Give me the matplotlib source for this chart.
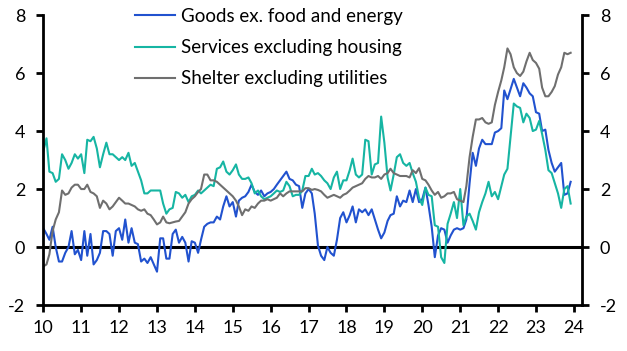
import numpy as np
import pandas as pd
import matplotlib
matplotlib.use("Agg")
import matplotlib.pyplot as plt
import matplotlib.dates as mdates

plt.rcParams["font.family"] = ["Lato", "DejaVu Sans"]
plt.rcParams["axes.unicode_minus"] = False

# monthly y/y %, Jan 2010 - Dec 2023
goods = [
    0.65, 0.45, 0.25, 0.7, 0.0, -0.5, -0.5, -0.2, 0.0, 0.55, -0.25, -0.1,
    -0.45, 0.55, -0.3, 0.45, -0.6, -0.45, -0.2, 0.55, 0.55, 0.45, -0.3, 0.55,
    0.65, 0.25, 0.95, 0.15, 0.65, 0.15, 0.1, -0.5, -0.4, -0.55, -0.35, -0.6,
    -0.85, 0.3, 0.3, -0.4, -0.4, 0.45, 0.6, 0.15, 0.35, 0.15, -0.5, 0.2,
    0.15, -0.2, 0.25, 0.7, 0.8, 0.85, 0.85, 1.05, 0.95, 1.4, 1.75, 1.4,
    1.55, 1.05, 1.6, 1.7, 1.75, 1.9, 2.15, 1.9, 1.8, 1.95, 1.75, 1.85,
    1.9, 2.0, 2.15, 2.3, 2.45, 2.6, 2.35, 2.3, 2.15, 2.1, 1.35, 1.85,
    2.0, 1.85, 1.15, 0.05, -0.3, -0.45, 0.0, -0.2, -0.3, 0.25, 1.0, 1.2,
    0.85, 1.1, 1.4, 0.85, 1.3, 1.2, 1.3, 1.1, 1.3, 0.95, 0.6, 0.3,
    0.5, 0.9, 1.1, 1.15, 1.75, 1.4, 1.6, 1.55, 1.95, 1.55, 2.0, 1.55,
    1.65, 2.05, 1.45, 0.7, -0.35, 0.4, 0.65, 0.6, 0.15, 0.4, 0.6, 0.65,
    0.6, 0.65, 0.95, 2.2, 3.25, 2.8, 3.4, 3.7, 3.55, 3.55, 3.55, 3.95,
    4.0, 4.1, 5.4, 5.1, 5.45, 5.8, 5.5, 5.2, 5.65, 5.5, 5.3, 5.2,
    4.65, 4.6, 4.0, 4.05, 3.35, 2.9, 2.6, 2.75, 2.9, 1.8, 1.85, 2.25,
]
services = [
    3.3, 3.75, 2.6, 2.55, 2.25, 2.35, 3.2, 3.0, 2.7, 2.9, 3.2, 3.05,
    3.2, 2.55, 3.7, 3.65, 3.8, 3.4, 2.75, 3.2, 3.6, 3.2, 3.2, 3.1,
    3.0, 3.1, 3.0, 3.25, 2.8, 2.9, 2.6, 2.3, 1.85, 1.85, 1.95, 1.95,
    1.95, 1.95, 1.5, 1.15, 1.3, 1.35, 1.9, 1.85, 1.7, 1.8, 1.55, 1.75,
    1.8, 1.95, 1.85, 1.95, 2.05, 2.15, 2.1, 2.7, 2.75, 2.95, 2.6, 2.5,
    2.65, 2.85, 2.5, 2.35, 2.35, 2.4, 2.2, 1.85, 1.95, 1.75, 1.65, 1.7,
    1.75, 1.85, 1.95, 1.9, 1.95, 2.25, 2.1, 1.75, 1.8, 1.8, 1.95, 2.45,
    2.45, 2.7, 2.5, 2.55, 2.45, 2.3, 2.2, 2.0, 2.4, 2.6, 2.0, 2.3,
    2.3, 2.65, 3.05, 2.5, 2.4, 2.5, 3.7, 3.65, 2.5, 2.85, 2.9, 4.5,
    3.6, 2.4, 1.95, 2.5, 3.1, 3.2, 2.9, 2.8, 2.9, 2.55, 2.25, 1.7,
    1.45, 2.05, 1.8, 1.75, 0.75, 0.7, -0.35, -0.55, 0.8, 1.15, 1.55, 1.0,
    2.0, 0.75, 1.05, 1.15, 0.9, 0.6, 1.2, 1.55, 1.85, 2.25, 1.75, 1.9,
    1.65, 2.1, 2.5, 2.7, 3.8, 4.95, 4.85, 4.8, 4.3, 4.6, 4.45, 4.0,
    4.05, 4.35, 3.9, 3.35, 2.65, 2.55, 2.2, 1.85, 1.35, 2.0, 2.1, 1.5,
]
shelter = [
    -0.67, -0.6, -0.25, 0.55, 0.95, 1.2, 1.95, 1.8, 1.85, 2.05, 2.15, 2.15,
    2.0, 2.0, 2.15, 1.9, 1.85, 1.75, 1.35, 1.6, 1.5, 1.3, 1.4, 1.55,
    1.7, 1.6, 1.5, 1.5, 1.45, 1.4, 1.3, 1.25, 1.3, 1.15, 1.1, 0.95,
    0.78, 0.85, 1.05, 0.85, 0.82, 0.85, 0.88, 0.9, 1.05, 1.2, 1.5, 1.65,
    1.75, 1.9, 2.0, 2.5, 2.5, 2.3, 2.3, 2.25, 2.15, 2.05, 1.95, 1.85,
    1.75, 1.6, 1.4, 1.1, 1.3, 1.25, 1.4, 1.35, 1.5, 1.6, 1.6, 1.65,
    1.6, 1.65, 1.7, 1.85, 1.75, 1.85, 1.92, 1.92, 1.92, 1.92, 1.92, 2.03,
    2.03, 1.97, 2.0, 1.97, 1.92, 1.8, 1.7, 1.75, 1.8, 1.75, 1.7, 1.8,
    1.85, 1.95, 2.05, 2.1, 2.15, 2.2, 2.35, 2.45, 2.4, 2.4, 2.45, 2.35,
    2.5, 2.55, 2.7, 2.55, 2.5, 2.45, 2.45, 2.45, 2.4, 2.65, 2.55, 2.72,
    2.35, 2.3, 2.15, 1.95, 1.8, 1.9, 1.7, 1.75, 1.85, 1.85, 1.9, 1.65,
    1.6, 1.55, 2.1, 3.1, 3.8, 4.4, 4.4, 4.45, 4.3, 4.25, 4.3, 4.9,
    5.35, 5.75, 6.2, 6.85, 6.65, 6.2, 6.0, 5.9, 6.05, 6.4, 6.7, 6.45,
    6.35, 6.15, 5.5, 5.2, 5.2, 5.35, 5.55, 5.95, 6.2, 6.7, 6.65, 6.7,
]
labels = ["Goods ex. food and energy", "Services excluding housing", "Shelter excluding utilities"]
colors = ["#2152CF", "#16B5A3", "#6F6F6F"]

dates = pd.date_range("2010-01-01", periods=len(goods), freq="MS")

fig = plt.figure(figsize=(6.27, 3.51), dpi=100)
ax = fig.add_axes([0.069, 0.131, 0.859, 0.826])

for series, label, color in zip([goods, services, shelter], labels, colors):
    ax.plot(dates, series, color=color, lw=1.5, label=label)

ax.axhline(0, color="black", lw=2.2, zorder=1)

ax.set_ylim(-2, 8)
ax.set_yticks(range(-2, 9, 2))
ax.set_xlim(pd.Timestamp("2010-01-01"), pd.Timestamp("2024-03-18"))
ax.xaxis.set_major_locator(mdates.YearLocator())
ax.xaxis.set_major_formatter(mdates.DateFormatter("%y"))

for side in ["left", "right", "bottom"]:
    ax.spines[side].set_linewidth(2)
ax.spines["top"].set_visible(False)

ax.tick_params(axis="y", left=True, right=True, labelleft=True, labelright=True,
               direction="out", length=5, width=2, pad=8, labelsize=13)
ax.tick_params(axis="x", direction="out", length=5, width=2, pad=6, labelsize=13)

ax.legend(loc="upper left", bbox_to_anchor=(135 / 627, 1 - 8 / 351),
          bbox_transform=fig.transFigure, frameon=False, fontsize=13.5,
          handlelength=2.15, handletextpad=0.28, labelspacing=0.75,
          borderpad=0, borderaxespad=0)

fig.savefig("out.png", dpi=100)
